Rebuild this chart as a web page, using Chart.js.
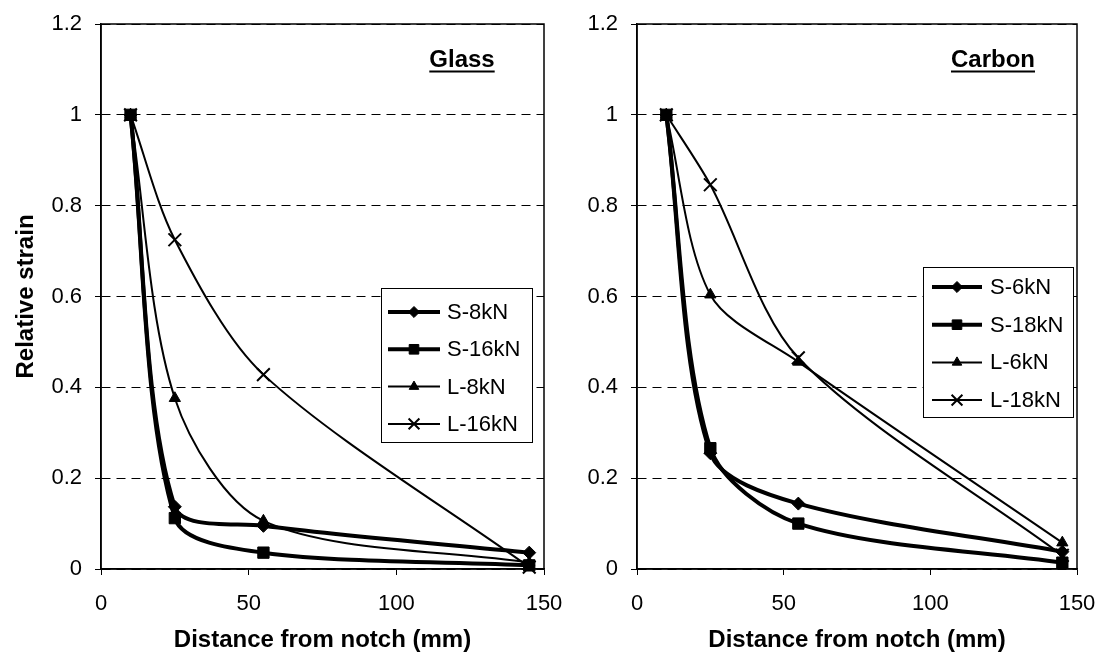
<!DOCTYPE html>
<html><head><meta charset="utf-8">
<script src="https://cdn.jsdelivr.net/npm/chart.js@4"></script>
<style>
html,body{margin:0;padding:0;background:#fff;}
#wrap{position:relative;width:1101px;height:662px;background:#fff;}
canvas{position:absolute;top:0;}
</style></head><body>
<div id="wrap">
<canvas id="glass" width="580" height="662" style="left:0"></canvas>
<canvas id="carbon" width="541" height="662" style="left:560px"></canvas>
</div>
<script>
// ---- data ----
const distances = [10, 25, 55, 145];
const glassLabels = ['S-8kN', 'S-16kN', 'L-8kN', 'L-16kN'];
const glassS8  = [1, 0.137, 0.095, 0.036];
const glassS16 = [1, 0.112, 0.036, 0.008];
const glassL8  = [1, 0.376, 0.106, 0.014];
const glassL16 = [1, 0.725, 0.428, 0.004];
const carbonLabels = ['S-6kN', 'S-18kN', 'L-6kN', 'L-18kN'];
const carbonS6  = [1, 0.255, 0.144, 0.038];
const carbonS18 = [1, 0.266, 0.100, 0.014];
const carbonL6  = [1, 0.604, 0.456, 0.058];
const carbonL18 = [1, 0.846, 0.465, 0.030];
const yTicks = [0, 0.2, 0.4, 0.6, 0.8, 1, 1.2];
const xTicks = [0, 50, 100, 150];
const xTitle = 'Distance from notch (mm)';
const yTitle = 'Relative strain';

// ---- styles ----
const FONT = '"Liberation Sans", Arial, sans-serif';
const seriesStyles = [
  {pointStyle: 'rectRot', radius: 6.5, width: 4, pbw: 1},
  {pointStyle: 'rect', radius: 8, width: 4, pbw: 1},
  {pointStyle: 'triangle', radius: 6.5, width: 2, pbw: 1},
  {pointStyle: 'crossRot', radius: 9, width: 2, pbw: 2}
];

function makeDatasets(labels, series) {
  return series.map((vals, i) => {
    const st = seriesStyles[i];
    return {
      label: labels[i],
      data: distances.map((x, k) => ({x: x, y: vals[k]})),
      borderColor: '#000',
      backgroundColor: '#000',
      borderWidth: st.width,
      pointStyle: st.pointStyle,
      pointRadius: st.radius,
      pointBorderWidth: st.pbw,
      pointBackgroundColor: '#000',
      pointBorderColor: '#000',
      tension: 0.3,
      fill: false,
      clip: false
    };
  });
}

const panelPlugin = {
  id: 'panel',
  beforeDatasetsDraw(chart) {
    const a = chart.chartArea, ctx = chart.ctx;
    ctx.save();
    ctx.strokeStyle = '#000';
    ctx.lineWidth = 1.5;
    ctx.setLineDash([]);
    ctx.strokeRect(a.left, a.top, a.right - a.left, a.bottom - a.top);
    ctx.restore();
  },
  afterDatasetsDraw(chart, args, opts) {
    const ctx = chart.ctx;
    ctx.save();
    ctx.fillStyle = '#000';
    ctx.strokeStyle = '#000';
    // panel label, underlined
    ctx.font = 'bold 24px ' + FONT;
    ctx.textAlign = 'center';
    ctx.textBaseline = 'alphabetic';
    ctx.fillText(opts.label, opts.labelX, opts.labelY);
    const w = ctx.measureText(opts.label).width;
    ctx.lineWidth = 2;
    ctx.beginPath();
    ctx.moveTo(opts.labelX - w / 2, opts.labelY + 4.5);
    ctx.lineTo(opts.labelX + w / 2, opts.labelY + 4.5);
    ctx.stroke();
    // legend box
    const b = opts.box;
    ctx.fillStyle = '#fff';
    ctx.fillRect(b.x, b.y, b.w, b.h);
    ctx.lineWidth = 1;
    ctx.strokeRect(b.x + 0.5, b.y + 0.5, b.w, b.h);
    ctx.font = '22px ' + FONT;
    ctx.textAlign = 'left';
    ctx.textBaseline = 'middle';
    chart.data.datasets.forEach((ds, i) => {
      const y = b.y + b.first + i * b.step;
      ctx.strokeStyle = '#000';
      ctx.lineWidth = ds.borderWidth;
      ctx.beginPath();
      ctx.moveTo(b.x + b.lineStart, y);
      ctx.lineTo(b.x + b.lineEnd, y);
      ctx.stroke();
      ctx.fillStyle = '#000';
      ctx.lineWidth = ds.pointBorderWidth;
      Chart.helpers.drawPoint(ctx, {
        pointStyle: ds.pointStyle, radius: ds.pointRadius * 0.85, rotation: 0,
        borderWidth: ds.pointBorderWidth
      }, b.x + (b.lineStart + b.lineEnd) / 2, y);
      ctx.fillStyle = '#000';
      ctx.fillText(ds.label, b.x + b.textX, y + 1);
    });
    ctx.restore();
  }
};

function makeChart(id, labels, series, cfg) {
  return new Chart(document.getElementById(id), {
    type: 'line',
    data: {datasets: makeDatasets(labels, series)},
    plugins: [panelPlugin],
    options: {
      responsive: false,
      animation: false,
      events: [],
      layout: {padding: {top: 24, right: cfg.padRight, left: 0, bottom: 0}},
      plugins: {
        legend: {display: false},
        tooltip: {enabled: false},
        panel: {label: cfg.label, labelX: cfg.labelX, labelY: 67, box: cfg.box}
      },
      scales: {
        x: {
          type: 'linear', min: 0, max: 150,
          afterBuildTicks: s => { s.ticks = xTicks.map(v => ({value: v})); },
          afterFit: s => { s.height = 93; s.paddingLeft = 0; s.paddingRight = 0; },
          grid: {display: true, drawOnChartArea: false, drawTicks: true, tickLength: 6, color: '#000', lineWidth: 1},
          border: {display: true, color: '#000', width: 1.5},
          ticks: {color: '#000', font: {size: 22, family: FONT}, padding: 16, maxRotation: 0,
                  callback: v => String(v)},
          title: {display: true, text: xTitle, color: '#000',
                  font: {size: 24, weight: 'bold', family: FONT}, padding: {top: 0, bottom: 7}}
        },
        y: {
          type: 'linear', min: 0, max: 1.2,
          afterBuildTicks: s => { s.ticks = yTicks.map(v => ({value: v})); },
          afterFit: s => { s.width = cfg.yWidth; s.paddingTop = 0; s.paddingBottom = 0; },
          grid: {display: true, drawTicks: true, tickLength: 6, color: '#000', lineWidth: 1, tickBorderDash: []},
          border: {display: true, color: '#000', width: 1.5, dash: [9, 6]},
          ticks: {color: '#000', font: {size: 22, family: FONT}, padding: 13,
                  callback: v => String(v)},
          title: {display: cfg.showYTitle, text: yTitle, color: '#000',
                  font: {size: 24, weight: 'bold', family: FONT}, padding: {top: 12, bottom: 0}}
        }
      }
    }
  });
}

makeChart('glass', glassLabels, [glassS8, glassS16, glassL8, glassL16], {
  label: 'Glass', labelX: 462, padRight: 36, yWidth: 101, showYTitle: true,
  box: {x: 381, y: 288, w: 151, h: 154, first: 24, step: 37.3, lineStart: 7, lineEnd: 59, textX: 66}
});
makeChart('carbon', carbonLabels, [carbonS6, carbonS18, carbonL6, carbonL18], {
  label: 'Carbon', labelX: 433, padRight: 24, yWidth: 77, showYTitle: false,
  box: {x: 363, y: 267, w: 150, h: 150, first: 20, step: 37.7, lineStart: 9, lineEnd: 59, textX: 67}
});
</script>
</body></html>
